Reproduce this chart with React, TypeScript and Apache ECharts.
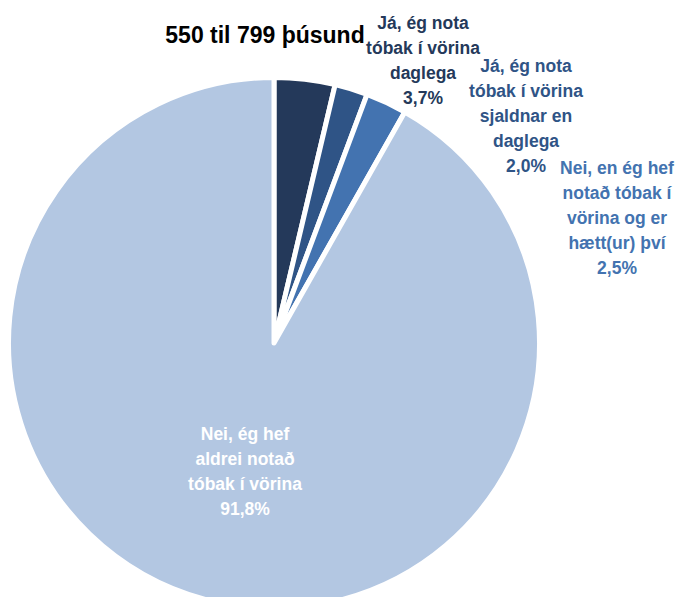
import React, { useEffect, useRef } from "react";
import * as echarts from "echarts";

const title = "550 til 799 þúsund";
const categories = [
  "Já, ég nota\ntóbak í vörina\ndaglega",
  "Já, ég nota\ntóbak í vörina\nsjaldnar en\ndaglega",
  "Nei, en ég hef\nnotað tóbak í\nvörina og er\nhætt(ur) því",
  "Nei, ég hef\naldrei notað\ntóbak í vörina",
];
const values = [3.7, 2.0, 2.5, 91.8];
const colors = ["#24395A", "#2F5486", "#4373B0", "#B3C7E2"];
const labelColors = ["#24395A", "#2F5486", "#4373B0", "#FFFFFF"];
const labelCenters = [
  [423, 60],
  [526, 116],
  [617, 218],
  [245, 471],
];

const FONT = "'Liberation Sans', Arial, sans-serif";

export default function App() {
  const ref = useRef<HTMLDivElement>(null);
  useEffect(() => {
    if (!ref.current) return;
    const chart = echarts.init(ref.current, undefined, { renderer: "svg" });
    chart.setOption({
      animation: false,
      title: {
        text: title,
        left: 260,
        top: 18,
        textAlign: "center",
        textStyle: {
          fontFamily: FONT,
          fontWeight: "bold",
          fontSize: 23,
          color: "#000000",
        },
      },
      series: [
        {
          type: "pie",
          center: [274, 343],
          radius: 265.5,
          startAngle: 90,
          clockwise: true,
          silent: true,
          itemStyle: { borderColor: "#ffffff", borderWidth: 5 },
          labelLine: { show: false },
          data: categories.map((c, i) => ({
            name: c,
            value: values[i],
            itemStyle: { color: colors[i] },
            label: {
              show: true,
              position: i === 3 ? "inside" : "outside",
              color: labelColors[i],
              fontFamily: FONT,
              fontWeight: "bold",
              fontSize: 17.5,
              lineHeight: 25,
              align: "center",
              overflow: "none",
              formatter: (p: any) =>
                p.name + "\n" + (p.value as number).toFixed(1).replace(".", ",") + "%",
            },
          })),
          labelLayout: (p: any) => ({
            x: labelCenters[p.dataIndex][0],
            y: labelCenters[p.dataIndex][1],
            align: "center",
            verticalAlign: "middle",
          }),
        },
      ],
    });
    return () => chart.dispose();
  }, []);
  return (
    <div
      ref={ref}
      style={{ position: "fixed", left: 0, top: 0, width: 680, height: 597, background: "#fff" }}
    />
  );
}
